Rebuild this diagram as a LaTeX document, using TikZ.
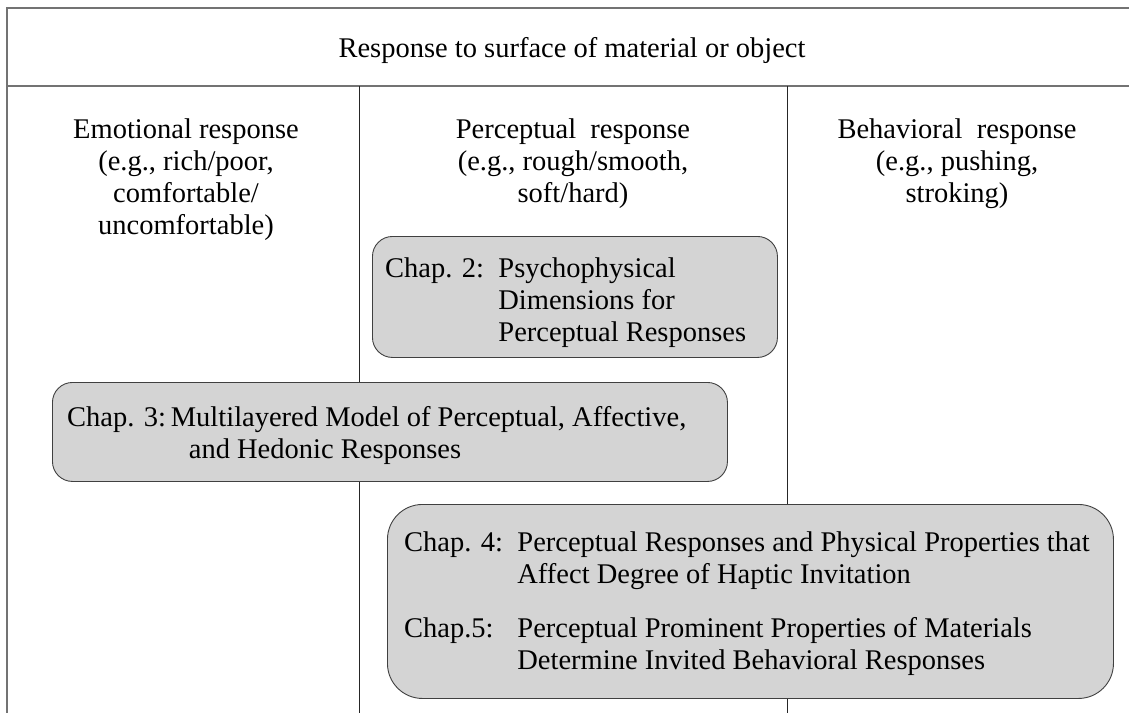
\documentclass[tikz,border=0pt]{standalone}
\usepackage{fontspec}
\setmainfont{Liberation Serif}
\usetikzlibrary{positioning}

\begin{document}
\begin{tikzpicture}[x=1pt, y=-1pt,
    every node/.append style={font=\fontsize{28.5}{32}\selectfont},
    frame/.style={draw=black!55, line width=1.6pt},
    divider/.style={draw=black!85, line width=0.9pt},
    chapbox/.style={draw=black!75, fill=black!17, line width=0.9pt,
      rounded corners=20pt, anchor=north west, inner sep=0pt},
    chaptext/.style={anchor=north west, inner sep=0pt}]
  \useasboundingbox (0,0) rectangle (1129,713);
  \coordinate (tl) at (7,8);
  \coordinate (tr) at (1129,8);
  \coordinate (hl) at (7,86);
  \coordinate (hr) at (1129,86);
  \coordinate (bl) at (7,713);
  \coordinate (da) at (359,86);
  \coordinate (db) at (787,86);
  \draw[frame] (tr) -- (tl) -- (bl);
  \draw[frame] (hl) -- (hr);
  \draw[divider] (da) -- (da |- bl);
  \draw[divider] (db) -- (db |- bl);

  \node (title) at (572,50) {Response to surface of material or object};
  \node[align=center] (emo) at (186,180) {Emotional response\\(e.g., rich/poor,\\comfortable/\\uncomfortable)};
  \node[align=center] (perc) at (573,164) {Perceptual\ \ response\\(e.g., rough/smooth,\\soft/hard)};
  \node[align=center] (behav) at (957,164) {Behavioral\ \ response\\(e.g., pushing,\\stroking)};

  \node[chapbox, minimum width=405pt, minimum height=121pt] (chtwo) at (372,236) {};
  \node[chaptext, below right=19pt and 13pt of chtwo.north west] (chtwotext)
    {\begin{tabular}{@{}l@{\ \ }l@{}}
      Chap. 2: & Psychophysical\\
               & Dimensions for\\
               & Perceptual Responses
    \end{tabular}};

  \node[chapbox, minimum width=675pt, minimum height=99pt] (chthree) at (52,382) {};
  \node[chaptext, below right=22pt and 15pt of chthree.north west] (chthreetext)
    {\begin{tabular}{@{}l@{\,}l@{}}
      Chap. 3: & Multilayered Model of Perceptual, Affective,\\
               & \hspace{18pt}and Hedonic Responses
    \end{tabular}};

  \node[chapbox, rounded corners=35pt, minimum width=726pt, minimum height=194pt] (chfour) at (387,504) {};
  \node[chaptext, below right=25pt and 17pt of chfour.north west] (chfourtext)
    {\begin{tabular}{@{}l@{\ \ }l@{}}
      Chap. 4: & Perceptual Responses and Physical Properties that\\
               & Affect Degree of Haptic Invitation\\[22pt]
      Chap.5:  & Perceptual Prominent Properties of Materials\\
               & Determine Invited Behavioral Responses
    \end{tabular}};
\end{tikzpicture}
\end{document}
